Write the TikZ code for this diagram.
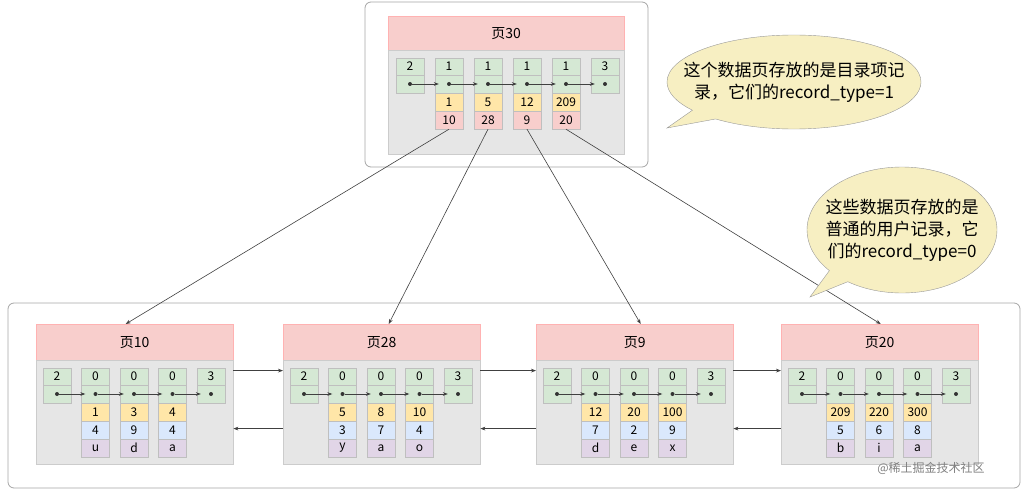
\documentclass[tikz,border=0pt]{standalone}
\usepackage{fontspec}
\setmainfont{Noto Sans CJK SC}
\usetikzlibrary{arrows.meta,shapes.callouts,shapes.geometric}
\definecolor{headpink}{HTML}{F8CECC}
\definecolor{bodygray}{HTML}{E6E6E6}
\definecolor{cellgreen}{HTML}{D5E8D4}
\definecolor{keyyellow}{HTML}{FFE6A8}
\definecolor{recblue}{HTML}{DAE8FC}
\definecolor{recpurple}{HTML}{E1D5E7}
\definecolor{notefill}{HTML}{F7EFC2}
\tikzset{
  outerbox/.style={draw=gray!70, rounded corners=6pt, fill=white, line width=0.8pt},
  pagehead/.style={draw=red!30, fill=headpink, inner sep=0, anchor=north west, font=\fontsize{14}{16}\selectfont},
  pagebody/.style={draw=gray!40, fill=bodygray, inner sep=0, anchor=north},
  cell/.style={draw=gray!50, inner sep=0, minimum width=28pt, font=\fontsize{12}{13}\selectfont},
  numcell/.style={cell, fill=cellgreen, minimum height=17pt},
  dotcell/.style={cell, fill=cellgreen, minimum height=18pt},
  reccell/.style={cell, minimum height=18pt},
  dot/.style={circle, fill=black!80, inner sep=0, minimum size=4pt},
  link/.style={-{Stealth[length=5pt]}, black!75, line width=0.6pt},
  note/.style={ellipse callout, draw=gray!80, fill=notefill, inner sep=0},
  notetext/.style={align=center, font=\fontsize{17}{22}\selectfont}
}
\begin{document}
\begin{tikzpicture}[x=1pt, y=-1pt]
\useasboundingbox (0,0) rectangle (1031,495);

% directory page
\draw[outerbox] (365,2) rectangle (648,167);
\node[pagehead, minimum width=236pt, minimum height=34pt] (p30) at (388,16) {页30};
\node[pagebody, minimum width=236pt, minimum height=104pt] (p30-body) at (p30.south) {};
\foreach \n [count=\i] in {2,1,1,1,1,3} {
  \node[numcell] (p30-n\i) at (371+39*\i, 66.5) {\n};
  \node[dotcell] (p30-d\i) at (371+39*\i, 84) {};
  \node[dot] (p30-dot\i) at (p30-d\i.center) {};
}
\foreach \k/\p [count=\i from 2] in {1/10,5/28,12/9,209/20} {
  \node[reccell, fill=keyyellow] (p30-k\i) at (371+39*\i, 102) {\k};
  \node[reccell, fill=headpink] (p30-r\i) at (371+39*\i, 120) {\p};
}
\foreach \i [evaluate=\i as \j using int(\i+1)] in {1,...,5}
  \draw[link] (p30-dot\i) -- ([xshift=4pt]p30-d\j.west);

% user record pages
\draw[outerbox] (8,303) rectangle (1020,488);
\foreach \p/\x/\recs in {10/36/{1/4/u,3/9/d,4/4/a}, 28/283/{5/3/y,8/7/a,10/4/o},
                         9/536/{12/7/d,20/2/e,100/9/x}, 20/781/{209/5/b,220/6/i,300/8/a}} {
  \node[pagehead, minimum width=197pt, minimum height=36pt] (p\p) at (\x,324) {页\p};
  \node[pagebody, minimum width=197pt, minimum height=104pt] (p\p-body) at (p\p.south) {};
  \foreach \n [count=\i] in {2,0,0,0,3} {
    \node[numcell] (p\p-n\i) at (\x-17.5+38.5*\i, 376.5) {\n};
    \node[dotcell] (p\p-d\i) at (\x-17.5+38.5*\i, 394) {};
    \node[dot] (p\p-dot\i) at (p\p-d\i.center) {};
  }
  \foreach \a/\b/\c [count=\i from 2] in \recs {
    \node[reccell, fill=keyyellow] (p\p-a\i) at (\x-17.5+38.5*\i, 412) {\a};
    \node[reccell, fill=recblue] (p\p-b\i) at (\x-17.5+38.5*\i, 430) {\b};
    \node[reccell, fill=recpurple] (p\p-c\i) at (\x-17.5+38.5*\i, 448) {\c};
  }
  \foreach \i [evaluate=\i as \j using int(\i+1)] in {1,...,4}
    \draw[link] (p\p-dot\i) -- ([xshift=4pt]p\p-d\j.west);
}

% page list
\foreach \a/\b in {10/28,28/9,9/20} {
  \draw[link] ([yshift=42pt]p\a-body.east) -- ([yshift=42pt]p\b-body.west);
  \draw[link] ([yshift=-16pt]p\b-body.west) -- ([yshift=-16pt]p\a-body.east);
}

% directory entries to pages
\draw[link] (p30-r2.south) -- ([xshift=-9pt]p10.north);
\draw[link] (p30-r3.south) -- ([xshift=7pt]p28.north);
\draw[link] (p30-r4.south) -- ([xshift=6pt]p9.north);
\draw[link] (p30-r5.south) -- ([xshift=1pt]p20.north);

% notes
\coordinate (tip1) at (667,128);
\node[note, minimum width=254pt, minimum height=94pt, callout absolute pointer={(tip1)}] (note1) at (794,82) {};
\node[notetext] (note1-text) at (note1.center) {这个数据页存放的是目录项记\\录，它们的record\_type=1};
\coordinate (tip2) at (810,297);
\node[note, minimum width=190pt, minimum height=126pt, callout absolute pointer={(tip2)}] (note2) at (902,230) {};
\node[notetext] (note2-text) at (note2.center) {这些数据页存放的是\\普通的用户记录，它\\们的record\_type=0};

\node[gray, font=\fontsize{12}{14}\selectfont] (mark) at (931,468) {@稀土掘金技术社区};
\end{tikzpicture}
\end{document}
